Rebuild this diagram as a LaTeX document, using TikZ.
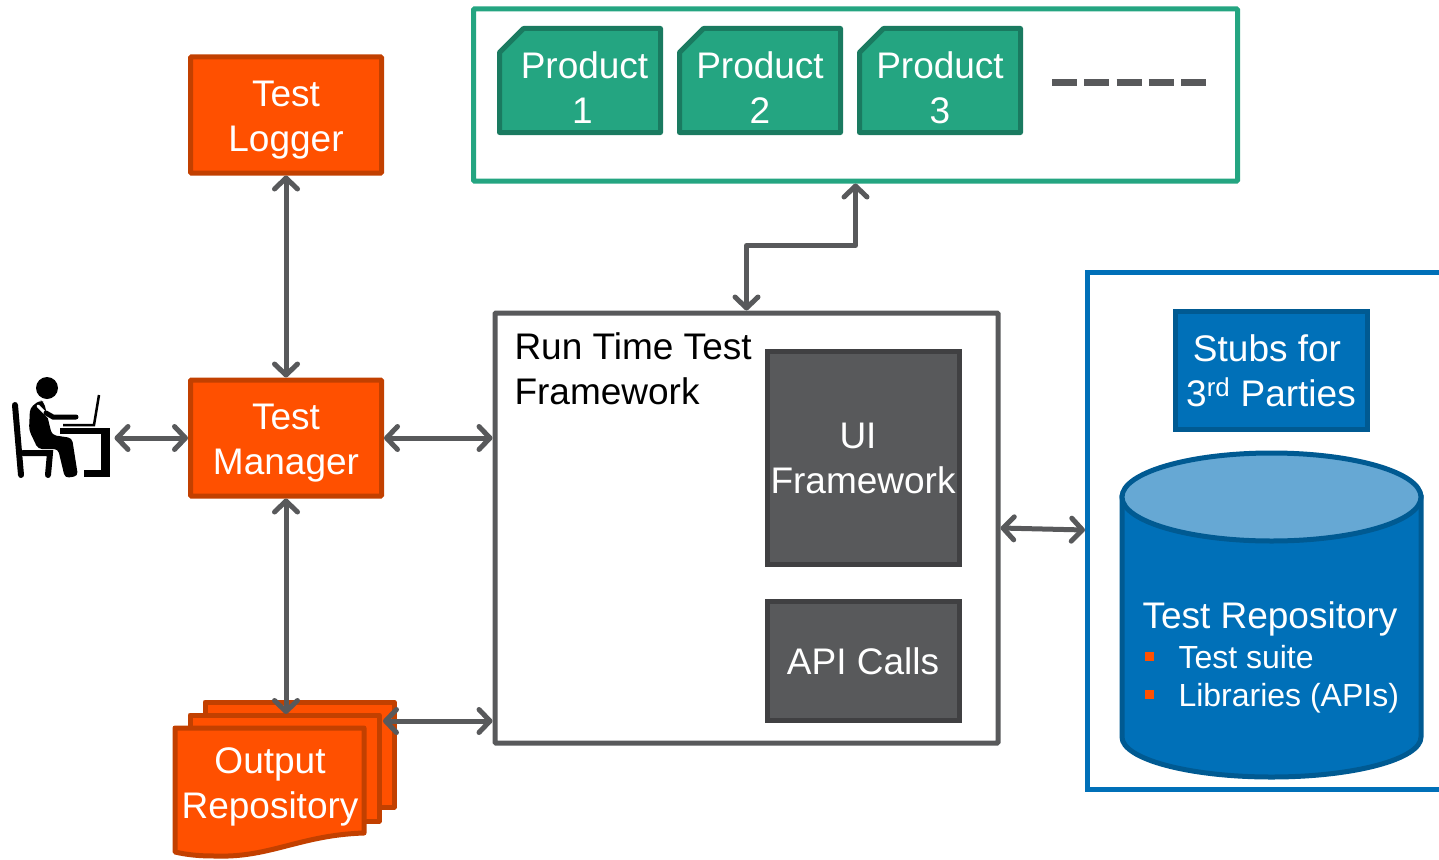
\documentclass[tikz,border=0pt]{standalone}
\usepackage{fontspec}
\setmainfont{Liberation Sans}
\usetikzlibrary{arrows.meta}
\definecolor{MainOrange}{HTML}{FF5000}
\definecolor{DarkOrange}{HTML}{C24000}
\definecolor{MainGreen}{HTML}{24A581}
\definecolor{DarkGreen}{HTML}{1A7A60}
\definecolor{MainGray}{HTML}{58595B}
\definecolor{DarkGray}{HTML}{404042}
\definecolor{MainBlue}{HTML}{0070B8}
\definecolor{DarkBlue}{HTML}{005A92}
\definecolor{LightBlue}{HTML}{66A8D4}
\newcommand{\boxstrut}{\rule{0pt}{37pt}}
\begin{document}
\begin{tikzpicture}[x=1pt,y=-1pt,line width=5pt,>={Straight Barb[length=11pt,width=23pt,round]},
    box text/.style={align=center,inner sep=0pt,font=\fontsize{37}{45}\selectfont},
    strut text/.style={box text,execute at end node=\rule[-10pt]{0pt}{10pt}},
    main node/.style={draw=DarkOrange,fill=MainOrange,text=white,rounded corners=1pt,minimum width=191pt,minimum height=116pt,strut text},
    product node/.style={minimum width=161pt,minimum height=104pt,inner sep=0pt,outer sep=0pt},
    gray node/.style={draw=DarkGray,fill=MainGray,text=white,minimum width=192pt,strut text},
    frame node/.style={draw,fill=white,inner sep=0pt,rounded corners=1pt},
    link/.style={<->,draw=MainGray,line cap=round,line join=round},
    sheet/.style={draw=DarkOrange,fill=MainOrange,line join=round},
    item/.style={text=white,anchor=west,inner sep=0pt,font=\fontsize{32}{38}\selectfont},
    bullet/.style={fill=MainOrange,minimum size=9pt,inner sep=0pt}]

    \useasboundingbox (0,0) rectangle (1439,859);

    % left column
    \node[main node] (manager) at (286,438) {\boxstrut Test\\Manager};
    \node[main node,above of = manager,node distance=323pt] (logger) {\boxstrut Test\\Logger};

    % products
    \node[frame node,draw=MainGreen,minimum width=764pt,minimum height=172pt] (frame) at (855.5,95) {};
    \node[product node] (p1) at (580,80.5) {};
    \node[product node,right of = p1,node distance=180pt] (p2) {};
    \node[product node,right of = p2,node distance=180pt] (p3) {};
    \foreach \p in {p1,p2,p3}
        \draw[DarkGreen,fill=MainGreen,line join=round] ([xshift=24pt]\p.north west) -- (\p.north east) -- (\p.south east) -- (\p.south west) -- ([yshift=-24pt]\p.north west) -- cycle;
    \node[box text,text=white] (t1) at (584.5,88) {Product\\\hspace*{-4pt}1};
    \node[box text,text=white] (t2) at (760,88) {Product\\2};
    \node[box text,text=white] (t3) at (940,88) {Product\\3};
    \coordinate (d1) at (1052,82);
    \coordinate (d2) at (1206,82);
    \draw[MainGray,line width=7pt,dash pattern=on 25pt off 7.25pt] (d1) -- (d2);

    % framework
    \node[frame node,draw=MainGray,minimum width=503pt,minimum height=430pt] (runtime) at (746.5,528) {};
    \node[anchor=north west,inner sep=0pt,align=left,font=\fontsize{37}{45}\selectfont] (runtext) at (512,330) {Run Time Test\\Framework};
    \node[gray node,minimum height=213pt] (ui) at (863,457.5) {\boxstrut\hspace*{-10pt}UI\\Framework};
    \node[gray node,minimum height=119pt] (api) at (863,660.5) {\boxstrut API Calls};

    % repository
    \coordinate (rt) at (1439,272);
    \coordinate (rl) at (1087,272);
    \coordinate (rb) at (1087,789);
    \coordinate (rr) at (1439,789);
    \coordinate (repo) at (1085,530);
    \draw[MainBlue] (rt) -- (rl) -- (rb) -- (rr);
    \node[draw=DarkBlue,fill=MainBlue,text=white,minimum width=192pt,minimum height=118pt,strut text] (stubs) at (1271,370) {\boxstrut\hspace*{-8pt}Stubs for\\3\textsuperscript{rd} Parties};
    \draw[DarkBlue,fill=MainBlue] (1122,497) -- (1122,737) arc[start angle=180,end angle=0,x radius=149.5,y radius=40] -- (1421,497) -- cycle;
    \draw[DarkBlue,fill=LightBlue] (1271.5,497) circle[x radius=149.5,y radius=44];
    \node[text=white,inner sep=0pt,font=\fontsize{37}{45}\selectfont] (repotext) at (1270,619) {Test Repository};
    \node[item] (suite) at (1176,657) {Test suite};
    \node[item] (libs) at (1176,698) {Libraries (APIs)};
    \node[bullet] (b1) at (1149,656) {};
    \node[bullet] (b2) at (1149,694) {};

    % output stack
    \draw[sheet] (205,702) -- (394,702) -- (394,807) -- (205,807) -- cycle;
    \draw[sheet] (190,715) -- (379,715) -- (379,821) -- (190,821) -- cycle;
    \draw[sheet] (175,728) -- (364,728) -- (364,833) .. controls (300,835) and (270,858) .. (215,856) .. controls (200,856) and (188,855) .. (175,852) -- cycle;
    \node[text=white,align=center,inner sep=0pt,font=\fontsize{37}{45}\selectfont] (output) at (270,787) {Output\\Repository};
    \coordinate (outtop) at (286,714);
    \coordinate (outright) at (383,721);

    % person at the desk
    \node[minimum width=98pt,minimum height=100pt,inner sep=0pt] (user) at (63,428) {};
    \fill (47,388) circle[radius=11];
    \draw[line width=6pt,line cap=round] (15,405) -- (21,475);
    \draw[line width=6pt,line cap=round] (23,453) -- (50,453) -- (48,475);
    \fill[rounded corners=4pt] (40,400) -- (30,408) -- (29,430) -- (38,449) -- (58,449) -- (65,478) -- (78,476) -- (72,438) -- (52,435) -- (48,419) -- (44,402) -- cycle;
    \draw[white,line width=3pt,line cap=round] (38,406) -- (52,420);
    \draw[line width=5pt,line cap=round] (46,413) -- (53,417) -- (76,417);
    \draw[line width=2.5pt] (99,395) -- (94,425) -- (63,425);
    \draw[line width=6pt] (60,431) -- (110,431);
    \draw[line width=9pt] (105.5,431) -- (105.5,474);
    \draw[line width=7pt] (84,473.5) -- (110,473.5);

    % connectors
    \draw[link] (logger.south) -- (manager.north);
    \draw[link] (manager.south) -- (outtop);
    \draw[link] (user.east |- manager.west) -- (manager.west);
    \draw[link] (manager.east) -- (manager.east -| runtime.west);
    \draw[link] (outright) -- (outright -| runtime.west);
    \draw[link] (runtime.north) -- ++(0,-65) -| (frame.south);
    \draw[link] (runtime.east) -- (repo);
\end{tikzpicture}
\end{document}
